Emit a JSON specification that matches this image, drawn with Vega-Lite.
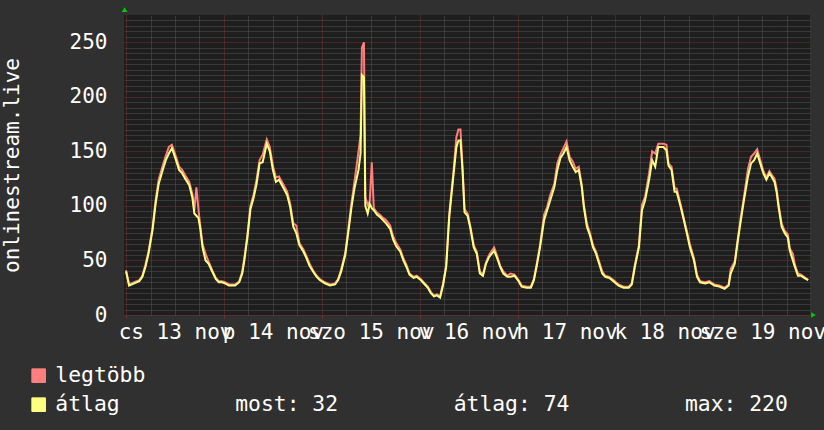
{
  "$schema": "https://vega.github.io/schema/vega-lite/v6.json",
  "width": 686,
  "height": 300,
  "autosize": {"type": "none"},
  "padding": {"left": 124, "top": 15, "right": 14, "bottom": 115},
  "background": "#303030",
  "config": {
    "view": {"fill": "#1e1e1e", "stroke": null},
    "font": "DejaVu Sans Mono"
  },
  "data": {
    "values": [
      {"t": "2025-11-13T00:00", "avg": 40, "max": 41},
      {"t": "2025-11-13T00:45", "avg": 27, "max": 28},
      {"t": "2025-11-13T02:00", "avg": 29, "max": 30},
      {"t": "2025-11-13T03:15", "avg": 31, "max": 32},
      {"t": "2025-11-13T04:00", "avg": 35, "max": 36},
      {"t": "2025-11-13T04:45", "avg": 44, "max": 46},
      {"t": "2025-11-13T05:30", "avg": 56, "max": 58},
      {"t": "2025-11-13T06:30", "avg": 78, "max": 80},
      {"t": "2025-11-13T07:15", "avg": 102, "max": 105},
      {"t": "2025-11-13T08:00", "avg": 120, "max": 124},
      {"t": "2025-11-13T09:00", "avg": 133, "max": 137},
      {"t": "2025-11-13T09:45", "avg": 142, "max": 146},
      {"t": "2025-11-13T10:30", "avg": 148, "max": 154},
      {"t": "2025-11-13T11:15", "avg": 153, "max": 156},
      {"t": "2025-11-13T12:15", "avg": 142, "max": 145},
      {"t": "2025-11-13T13:00", "avg": 133, "max": 136},
      {"t": "2025-11-13T13:45", "avg": 130, "max": 133},
      {"t": "2025-11-13T14:30", "avg": 125, "max": 128},
      {"t": "2025-11-13T15:30", "avg": 119, "max": 122},
      {"t": "2025-11-13T16:15", "avg": 108, "max": 111},
      {"t": "2025-11-13T16:45", "avg": 93, "max": 96},
      {"t": "2025-11-13T17:15", "avg": 91, "max": 117},
      {"t": "2025-11-13T17:45", "avg": 89, "max": 97},
      {"t": "2025-11-13T18:15", "avg": 78, "max": 80},
      {"t": "2025-11-13T18:45", "avg": 62, "max": 65},
      {"t": "2025-11-13T19:30", "avg": 50, "max": 56},
      {"t": "2025-11-13T20:15", "avg": 47, "max": 49},
      {"t": "2025-11-13T21:15", "avg": 39, "max": 40},
      {"t": "2025-11-13T22:00", "avg": 33, "max": 34},
      {"t": "2025-11-13T22:45", "avg": 30, "max": 31},
      {"t": "2025-11-13T23:30", "avg": 30, "max": 31},
      {"t": "2025-11-14T00:15", "avg": 29, "max": 30},
      {"t": "2025-11-14T01:15", "avg": 27, "max": 28},
      {"t": "2025-11-14T02:45", "avg": 27, "max": 28},
      {"t": "2025-11-14T03:45", "avg": 30, "max": 31},
      {"t": "2025-11-14T04:30", "avg": 38, "max": 40},
      {"t": "2025-11-14T05:00", "avg": 50, "max": 52},
      {"t": "2025-11-14T05:45", "avg": 71, "max": 73},
      {"t": "2025-11-14T06:30", "avg": 97, "max": 100},
      {"t": "2025-11-14T07:15", "avg": 107, "max": 110},
      {"t": "2025-11-14T08:00", "avg": 120, "max": 124},
      {"t": "2025-11-14T08:45", "avg": 139, "max": 142},
      {"t": "2025-11-14T09:30", "avg": 140, "max": 147},
      {"t": "2025-11-14T10:30", "avg": 157, "max": 161},
      {"t": "2025-11-14T11:15", "avg": 150, "max": 154},
      {"t": "2025-11-14T12:00", "avg": 133, "max": 137},
      {"t": "2025-11-14T12:45", "avg": 122, "max": 126},
      {"t": "2025-11-14T13:30", "avg": 124, "max": 127},
      {"t": "2025-11-14T14:30", "avg": 117, "max": 120},
      {"t": "2025-11-14T15:30", "avg": 110, "max": 113},
      {"t": "2025-11-14T16:15", "avg": 99, "max": 102},
      {"t": "2025-11-14T17:00", "avg": 81, "max": 84},
      {"t": "2025-11-14T17:45", "avg": 75, "max": 82},
      {"t": "2025-11-14T18:30", "avg": 64, "max": 66},
      {"t": "2025-11-14T19:30", "avg": 58, "max": 60},
      {"t": "2025-11-14T20:15", "avg": 52, "max": 54},
      {"t": "2025-11-14T21:00", "avg": 45, "max": 47},
      {"t": "2025-11-14T22:00", "avg": 39, "max": 40},
      {"t": "2025-11-14T22:45", "avg": 35, "max": 36},
      {"t": "2025-11-14T23:30", "avg": 32, "max": 33},
      {"t": "2025-11-15T00:45", "avg": 29, "max": 30},
      {"t": "2025-11-15T02:00", "avg": 27, "max": 28},
      {"t": "2025-11-15T03:15", "avg": 28, "max": 29},
      {"t": "2025-11-15T04:00", "avg": 32, "max": 33},
      {"t": "2025-11-15T04:45", "avg": 40, "max": 42},
      {"t": "2025-11-15T05:45", "avg": 55, "max": 57},
      {"t": "2025-11-15T06:30", "avg": 76, "max": 79},
      {"t": "2025-11-15T07:15", "avg": 98, "max": 102},
      {"t": "2025-11-15T08:00", "avg": 116, "max": 122},
      {"t": "2025-11-15T09:00", "avg": 133, "max": 150},
      {"t": "2025-11-15T09:30", "avg": 148, "max": 165},
      {"t": "2025-11-15T09:50", "avg": 220, "max": 245},
      {"t": "2025-11-15T10:20", "avg": 218, "max": 250},
      {"t": "2025-11-15T10:40", "avg": 100, "max": 108},
      {"t": "2025-11-15T11:15", "avg": 93, "max": 101},
      {"t": "2025-11-15T11:45", "avg": 102, "max": 104},
      {"t": "2025-11-15T12:15", "avg": 98, "max": 140},
      {"t": "2025-11-15T12:45", "avg": 96, "max": 98},
      {"t": "2025-11-15T13:30", "avg": 92, "max": 94},
      {"t": "2025-11-15T14:15", "avg": 90, "max": 92},
      {"t": "2025-11-15T15:00", "avg": 87, "max": 89},
      {"t": "2025-11-15T15:45", "avg": 84, "max": 87},
      {"t": "2025-11-15T16:45", "avg": 79, "max": 82},
      {"t": "2025-11-15T17:30", "avg": 69, "max": 72},
      {"t": "2025-11-15T18:15", "avg": 63, "max": 66},
      {"t": "2025-11-15T19:15", "avg": 58, "max": 60},
      {"t": "2025-11-15T20:00", "avg": 50, "max": 52},
      {"t": "2025-11-15T20:45", "avg": 44, "max": 46},
      {"t": "2025-11-15T21:30", "avg": 37, "max": 38},
      {"t": "2025-11-15T22:30", "avg": 34, "max": 35},
      {"t": "2025-11-15T23:15", "avg": 35, "max": 36},
      {"t": "2025-11-16T00:15", "avg": 32, "max": 33},
      {"t": "2025-11-16T01:15", "avg": 28, "max": 29},
      {"t": "2025-11-16T02:00", "avg": 25, "max": 26},
      {"t": "2025-11-16T02:45", "avg": 20, "max": 21},
      {"t": "2025-11-16T03:30", "avg": 17, "max": 18},
      {"t": "2025-11-16T04:15", "avg": 18, "max": 19},
      {"t": "2025-11-16T05:00", "avg": 16, "max": 17},
      {"t": "2025-11-16T05:45", "avg": 28, "max": 29},
      {"t": "2025-11-16T06:30", "avg": 44, "max": 46},
      {"t": "2025-11-16T07:15", "avg": 90, "max": 93},
      {"t": "2025-11-16T08:15", "avg": 127, "max": 130},
      {"t": "2025-11-16T09:00", "avg": 154, "max": 163},
      {"t": "2025-11-16T09:30", "avg": 160, "max": 170},
      {"t": "2025-11-16T10:00", "avg": 160, "max": 170},
      {"t": "2025-11-16T10:30", "avg": 133, "max": 136},
      {"t": "2025-11-16T11:00", "avg": 94, "max": 97},
      {"t": "2025-11-16T11:45", "avg": 91, "max": 93},
      {"t": "2025-11-16T12:30", "avg": 78, "max": 80},
      {"t": "2025-11-16T13:15", "avg": 62, "max": 64},
      {"t": "2025-11-16T14:00", "avg": 56, "max": 58},
      {"t": "2025-11-16T14:45", "avg": 38, "max": 40},
      {"t": "2025-11-16T15:30", "avg": 36, "max": 37},
      {"t": "2025-11-16T16:15", "avg": 47, "max": 48},
      {"t": "2025-11-16T17:00", "avg": 53, "max": 55},
      {"t": "2025-11-16T18:15", "avg": 59, "max": 62},
      {"t": "2025-11-16T19:00", "avg": 52, "max": 54},
      {"t": "2025-11-16T19:45", "avg": 44, "max": 45},
      {"t": "2025-11-16T20:30", "avg": 38, "max": 40},
      {"t": "2025-11-16T21:30", "avg": 35, "max": 36},
      {"t": "2025-11-16T22:15", "avg": 35, "max": 38},
      {"t": "2025-11-16T23:15", "avg": 36, "max": 37},
      {"t": "2025-11-17T00:15", "avg": 31, "max": 32},
      {"t": "2025-11-17T01:00", "avg": 26, "max": 27},
      {"t": "2025-11-17T02:15", "avg": 25, "max": 26},
      {"t": "2025-11-17T03:15", "avg": 25, "max": 26},
      {"t": "2025-11-17T04:00", "avg": 32, "max": 33},
      {"t": "2025-11-17T04:45", "avg": 46, "max": 48},
      {"t": "2025-11-17T05:30", "avg": 62, "max": 64},
      {"t": "2025-11-17T06:30", "avg": 87, "max": 92},
      {"t": "2025-11-17T07:15", "avg": 96, "max": 99},
      {"t": "2025-11-17T08:00", "avg": 105, "max": 110},
      {"t": "2025-11-17T09:00", "avg": 117, "max": 120},
      {"t": "2025-11-17T09:45", "avg": 133, "max": 139},
      {"t": "2025-11-17T10:30", "avg": 144, "max": 147},
      {"t": "2025-11-17T11:15", "avg": 148, "max": 153},
      {"t": "2025-11-17T12:00", "avg": 154, "max": 159},
      {"t": "2025-11-17T12:45", "avg": 142, "max": 145},
      {"t": "2025-11-17T13:30", "avg": 136, "max": 141},
      {"t": "2025-11-17T14:15", "avg": 131, "max": 134},
      {"t": "2025-11-17T15:00", "avg": 133, "max": 136},
      {"t": "2025-11-17T15:45", "avg": 117, "max": 119},
      {"t": "2025-11-17T16:15", "avg": 99, "max": 101},
      {"t": "2025-11-17T17:00", "avg": 81, "max": 84},
      {"t": "2025-11-17T17:45", "avg": 73, "max": 75},
      {"t": "2025-11-17T18:30", "avg": 62, "max": 64},
      {"t": "2025-11-17T19:15", "avg": 56, "max": 58},
      {"t": "2025-11-17T20:00", "avg": 47, "max": 49},
      {"t": "2025-11-17T20:45", "avg": 38, "max": 40},
      {"t": "2025-11-17T21:30", "avg": 35, "max": 36},
      {"t": "2025-11-17T22:30", "avg": 34, "max": 35},
      {"t": "2025-11-17T23:30", "avg": 31, "max": 32},
      {"t": "2025-11-18T00:45", "avg": 27, "max": 28},
      {"t": "2025-11-18T02:00", "avg": 25, "max": 26},
      {"t": "2025-11-18T03:15", "avg": 25, "max": 26},
      {"t": "2025-11-18T04:00", "avg": 28, "max": 29},
      {"t": "2025-11-18T04:45", "avg": 44, "max": 46},
      {"t": "2025-11-18T05:45", "avg": 62, "max": 64},
      {"t": "2025-11-18T06:30", "avg": 96, "max": 101},
      {"t": "2025-11-18T07:15", "avg": 105, "max": 108},
      {"t": "2025-11-18T08:15", "avg": 124, "max": 130},
      {"t": "2025-11-18T09:00", "avg": 142, "max": 150},
      {"t": "2025-11-18T09:45", "avg": 136, "max": 148},
      {"t": "2025-11-18T10:30", "avg": 154, "max": 157},
      {"t": "2025-11-18T11:45", "avg": 154, "max": 157},
      {"t": "2025-11-18T12:30", "avg": 151, "max": 156},
      {"t": "2025-11-18T13:00", "avg": 137, "max": 139},
      {"t": "2025-11-18T13:45", "avg": 133, "max": 136},
      {"t": "2025-11-18T14:30", "avg": 113, "max": 116},
      {"t": "2025-11-18T15:00", "avg": 113, "max": 116},
      {"t": "2025-11-18T16:00", "avg": 99, "max": 101},
      {"t": "2025-11-18T16:45", "avg": 87, "max": 89},
      {"t": "2025-11-18T17:30", "avg": 75, "max": 77},
      {"t": "2025-11-18T18:15", "avg": 62, "max": 65},
      {"t": "2025-11-18T19:15", "avg": 50, "max": 52},
      {"t": "2025-11-18T20:00", "avg": 35, "max": 37},
      {"t": "2025-11-18T20:45", "avg": 30, "max": 31},
      {"t": "2025-11-18T22:00", "avg": 29, "max": 30},
      {"t": "2025-11-18T23:00", "avg": 30, "max": 31},
      {"t": "2025-11-19T00:15", "avg": 27, "max": 28},
      {"t": "2025-11-19T01:30", "avg": 26, "max": 27},
      {"t": "2025-11-19T02:45", "avg": 24, "max": 25},
      {"t": "2025-11-19T03:45", "avg": 27, "max": 28},
      {"t": "2025-11-19T04:15", "avg": 38, "max": 42},
      {"t": "2025-11-19T05:15", "avg": 47, "max": 49},
      {"t": "2025-11-19T06:00", "avg": 68, "max": 70},
      {"t": "2025-11-19T06:45", "avg": 87, "max": 90},
      {"t": "2025-11-19T07:30", "avg": 105, "max": 108},
      {"t": "2025-11-19T08:30", "avg": 127, "max": 134},
      {"t": "2025-11-19T09:15", "avg": 139, "max": 145},
      {"t": "2025-11-19T10:00", "avg": 142, "max": 148},
      {"t": "2025-11-19T10:45", "avg": 148, "max": 152},
      {"t": "2025-11-19T11:30", "avg": 139, "max": 142},
      {"t": "2025-11-19T12:15", "avg": 130, "max": 132},
      {"t": "2025-11-19T13:00", "avg": 124, "max": 126},
      {"t": "2025-11-19T13:45", "avg": 130, "max": 132},
      {"t": "2025-11-19T14:15", "avg": 127, "max": 129},
      {"t": "2025-11-19T15:00", "avg": 122, "max": 125},
      {"t": "2025-11-19T15:30", "avg": 113, "max": 116},
      {"t": "2025-11-19T16:00", "avg": 99, "max": 101},
      {"t": "2025-11-19T16:45", "avg": 81, "max": 84},
      {"t": "2025-11-19T17:30", "avg": 75, "max": 77},
      {"t": "2025-11-19T18:15", "avg": 71, "max": 74},
      {"t": "2025-11-19T18:45", "avg": 59, "max": 61},
      {"t": "2025-11-19T19:30", "avg": 50, "max": 56},
      {"t": "2025-11-19T20:00", "avg": 44, "max": 46},
      {"t": "2025-11-19T20:45", "avg": 36, "max": 38},
      {"t": "2025-11-19T21:30", "avg": 36, "max": 37},
      {"t": "2025-11-19T22:15", "avg": 34, "max": 35},
      {"t": "2025-11-19T23:15", "avg": 32, "max": 32}
    ]
  },
  "layer": [
    {
      "mark": {"type": "line", "strokeWidth": 2, "clip": true},
      "encoding": {
        "x": {
          "field": "t", "type": "temporal",
          "scale": {"domain": [
            {"year": 2025, "month": 11, "date": 12, "hours": 23, "minutes": 30},
            {"year": 2025, "month": 11, "date": 19, "hours": 23, "minutes": 42}
          ]},
          "axis": {
            "orient": "top", "labels": false, "ticks": false, "domain": false, "title": null,
            "grid": true, "gridColor": "#545454", "gridDash": [1, 1], "gridWidth": 1,
            "values": [
              {"year": 2025, "month": 11, "date": 13, "hours": 6},
              {"year": 2025, "month": 11, "date": 13, "hours": 12},
              {"year": 2025, "month": 11, "date": 13, "hours": 18},
              {"year": 2025, "month": 11, "date": 14, "hours": 6},
              {"year": 2025, "month": 11, "date": 14, "hours": 12},
              {"year": 2025, "month": 11, "date": 14, "hours": 18},
              {"year": 2025, "month": 11, "date": 15, "hours": 6},
              {"year": 2025, "month": 11, "date": 15, "hours": 12},
              {"year": 2025, "month": 11, "date": 15, "hours": 18},
              {"year": 2025, "month": 11, "date": 16, "hours": 6},
              {"year": 2025, "month": 11, "date": 16, "hours": 12},
              {"year": 2025, "month": 11, "date": 16, "hours": 18},
              {"year": 2025, "month": 11, "date": 17, "hours": 6},
              {"year": 2025, "month": 11, "date": 17, "hours": 12},
              {"year": 2025, "month": 11, "date": 17, "hours": 18},
              {"year": 2025, "month": 11, "date": 18, "hours": 6},
              {"year": 2025, "month": 11, "date": 18, "hours": 12},
              {"year": 2025, "month": 11, "date": 18, "hours": 18},
              {"year": 2025, "month": 11, "date": 19, "hours": 6},
              {"year": 2025, "month": 11, "date": 19, "hours": 12},
              {"year": 2025, "month": 11, "date": 19, "hours": 18}
            ]
          }
        },
        "y": {
          "field": "max", "type": "quantitative",
          "scale": {"domain": [0, 275], "nice": false, "zero": true},
          "axis": {
            "orient": "right", "labels": false, "ticks": false, "domain": false, "title": null,
            "grid": true, "gridColor": "#545454", "gridDash": [1, 1], "gridWidth": 1,
            "values": [5, 10, 15, 20, 25, 30, 35, 40, 45, 55, 60, 65, 70, 75, 80, 85, 90, 95, 105, 110, 115, 120, 125, 130, 135, 140, 145, 155, 160, 165, 170, 175, 180, 185, 190, 195, 205, 210, 215, 220, 225, 230, 235, 240, 245, 255, 260, 265, 270]
          }
        },
        "color": {
          "datum": "legtöbb", "type": "nominal",
          "scale": {"domain": ["legtöbb", "átlag"], "range": ["#ff7f7f", "#ffff7f"]},
          "legend": {
            "title": null,
            "orient": "none",
            "legendX": -96,
            "legendY": 350,
            "direction": "vertical",
            "padding": 0,
            "symbolType": "square",
            "symbolSize": 185,
            "symbolStrokeColor": "#000000",
            "symbolStrokeWidth": 1,
            "labelFont": "DejaVu Sans Mono",
            "labelFontSize": 21.35,
            "labelColor": "#ffffff",
            "labelLimit": 900,
            "labelOffset": 6,
            "rowPadding": 6,
            "labelExpr": "datum.label == 'átlag' ? 'átlag\u00a0\u00a0\u00a0\u00a0\u00a0\u00a0\u00a0\u00a0\u00a0most: 32\u00a0\u00a0\u00a0\u00a0\u00a0\u00a0\u00a0\u00a0\u00a0átlag: 74\u00a0\u00a0\u00a0\u00a0\u00a0\u00a0\u00a0\u00a0\u00a0max: 220' : datum.label",
            "encode": {
              "symbols": {
                "update": {
                  "fill": {"scale": "color", "field": "value"},
                  "stroke": {"value": "#000000"},
                  "strokeWidth": {"value": 1},
                  "opacity": {"value": 1}
                }
              }
            }
          }
        }
      }
    },
    {
      "mark": {"type": "line", "strokeWidth": 2, "clip": true},
      "encoding": {
        "x": {
          "field": "t", "type": "temporal",
          "axis": {
            "orient": "bottom", "title": null, "domain": false,
            "grid": true, "gridColor": "#733131", "gridDash": [1, 1], "gridWidth": 1,
            "ticks": true, "tickSize": 3, "tickColor": "#733131",
            "labelOffset": 49, "labelPadding": 3,
            "labelFont": "DejaVu Sans Mono", "labelFontSize": 21, "labelColor": "#ffffff",
            "labelOverlap": false, "labelBound": false, "labelFlush": false,
            "labelExpr": "['v','h','k','sze','cs','p','szo'][day(datum.value)] + ' ' + date(datum.value) + ' nov'",
            "values": [
              {"year": 2025, "month": 11, "date": 13},
              {"year": 2025, "month": 11, "date": 14},
              {"year": 2025, "month": 11, "date": 15},
              {"year": 2025, "month": 11, "date": 16},
              {"year": 2025, "month": 11, "date": 17},
              {"year": 2025, "month": 11, "date": 18},
              {"year": 2025, "month": 11, "date": 19}
            ]
          }
        },
        "y": {
          "field": "avg", "type": "quantitative",
          "axis": {
            "orient": "left", "domain": false, "ticks": false,
            "grid": true, "gridColor": "#733131", "gridDash": [1, 1], "gridWidth": 1,
            "values": [0, 50, 100, 150, 200, 250],
            "labelPadding": 17,
            "labelFont": "DejaVu Sans Mono", "labelFontSize": 21, "labelColor": "#ffffff",
            "title": "onlinestream.live",
            "titleFont": "DejaVu Sans Mono", "titleFontSize": 21, "titleFontWeight": "normal",
            "titleColor": "#ffffff", "titlePadding": 47
          }
        },
        "color": {"datum": "átlag", "type": "nominal"}
      }
    },
    {
      "data": {"values": [{"t": "2025-11-12T23:38", "v": 280}]},
      "mark": {"type": "point", "shape": "triangle-up", "filled": true, "color": "#00cc00", "opacity": 1, "size": 30, "clip": false},
      "encoding": {
        "x": {"field": "t", "type": "temporal", "axis": null},
        "y": {"field": "v", "type": "quantitative", "axis": null}
      }
    },
    {
      "data": {"values": [{"t": "2025-11-20T00:33", "v": 0}]},
      "mark": {"type": "point", "shape": "triangle-right", "filled": true, "color": "#00cc00", "opacity": 1, "size": 30, "clip": false},
      "encoding": {
        "x": {"field": "t", "type": "temporal", "axis": null},
        "y": {"field": "v", "type": "quantitative", "axis": null}
      }
    }
  ],
  "resolve": {"axis": {"x": "independent", "y": "independent"}}
}
